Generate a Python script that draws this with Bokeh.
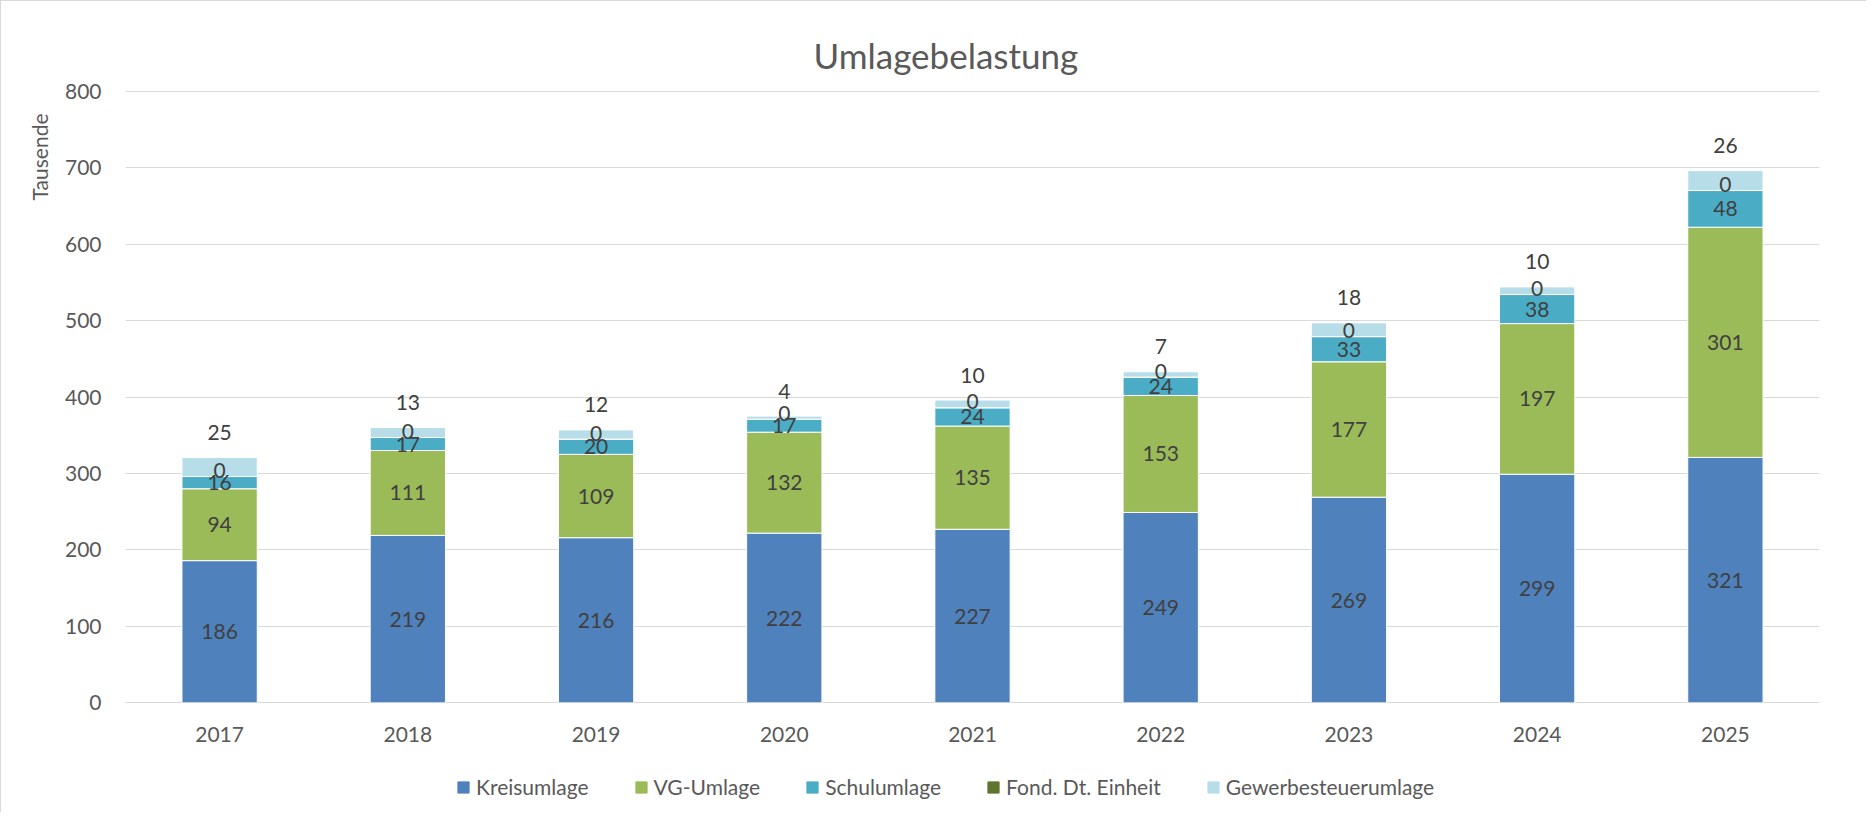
from bokeh.plotting import figure
from bokeh.layouts import column
from bokeh.models import (FactorRange, Range1d, FixedTicker, Title, Legend, LegendItem,
                          ColumnDataSource)
from bokeh.core.properties import value
from bokeh.embed import file_html
from bokeh.resources import INLINE

# ---- data ----
years = ["2017", "2018", "2019", "2020", "2021", "2022", "2023", "2024", "2025"]
kreisumlage = [186, 219, 216, 222, 227, 249, 269, 299, 321]
vg_umlage = [94, 111, 109, 132, 135, 153, 177, 197, 301]
schulumlage = [16, 17, 20, 17, 24, 24, 33, 38, 48]
fond_dt_einheit = [0, 0, 0, 0, 0, 0, 0, 0, 0]
gewerbesteuerumlage = [25, 13, 12, 4, 10, 7, 18, 10, 26]
series_names = ["Kreisumlage", "VG-Umlage", "Schulumlage", "Fond. Dt. Einheit", "Gewerbesteuerumlage"]
y_ticks = [0, 100, 200, 300, 400, 500, 600, 700, 800]
title_text = "Umlagebelastung"
y_label_text = "Tausende"

colors = ["#4F81BD", "#9BBB59", "#4BACC6", "#5F7530", "#B7DEE8"]
FONT = "Lato"
FS = "21px"
LABEL_COLOR = "#404040"
AXIS_COLOR = "#595959"

keys = ["k", "v", "s", "f", "g"]
data = dict(years=years, k=kreisumlage, v=vg_umlage, s=schulumlage, f=fond_dt_einheit, g=gewerbesteuerumlage)
src = ColumnDataSource(data)

p = figure(width=1866, height=762, x_range=FactorRange(*years), y_range=Range1d(-0.8, 800.8),
           output_backend="svg", toolbar_location=None,
           min_border_left=124, min_border_right=48, min_border_top=89, min_border_bottom=60)
p.styles = {"border-top": "1px solid #D9D9D9", "border-left": "1px solid #D9D9D9"}
p.outline_line_color = None
p.background_fill_color = "white"
p.border_fill_color = "white"

renderers = p.vbar_stack(keys, x="years", width=0.4, color=colors, source=src,
                         line_color="white", line_width=1)

# axes
for ax in (p.xaxis[0], p.yaxis[0]):
    ax.axis_line_color = None
    ax.major_tick_line_color = None
    ax.minor_tick_line_color = None
    ax.major_tick_in = 0
    ax.major_tick_out = 0
    ax.major_label_text_font = FONT
    ax.major_label_text_font_size = FS
    ax.major_label_text_color = AXIS_COLOR
p.yaxis.ticker = FixedTicker(ticks=y_ticks)
p.yaxis.major_label_standoff = 24
p.xaxis.major_label_standoff = 23
p.xgrid.grid_line_color = None
p.ygrid.grid_line_color = "#D9D9D9"
p.ygrid.grid_line_width = 1

# stacked positions for labels
cum = [0] * len(years)
centers = []
tops = []
for vals in [kreisumlage, vg_umlage, schulumlage, fond_dt_einheit, gewerbesteuerumlage]:
    centers.append([c + v / 2 for c, v in zip(cum, vals)])
    cum = [c + v for c, v in zip(cum, vals)]
    tops.append(list(cum))

lab_common = dict(text_font=value(FONT), text_font_size=FS, text_color=LABEL_COLOR,
                  text_align="center", text_baseline="middle")
for i, vals in enumerate([kreisumlage, vg_umlage, schulumlage]):
    p.text(x=years, y=centers[i], text=[str(v) for v in vals], **lab_common)
p.text(x=years, y=centers[3], text=[str(v) for v in fond_dt_einheit], y_offset=-6, **lab_common)
p.text(x=years, y=tops[4], text=[str(v) for v in gewerbesteuerumlage], y_offset=-25, **lab_common)

# title
p.title = Title(text=title_text, align="left", offset=688, standoff=30,
                text_font=FONT, text_font_size="35px", text_font_style="normal",
                text_color=AXIS_COLOR)
# y label as a title in the left panel, near the top
p.add_layout(Title(text=y_label_text, align="right", offset=23, standoff=20,
                   text_font=FONT, text_font_size=FS, text_font_style="normal",
                   text_color=AXIS_COLOR), "left")

# ---- legend strip below the chart ----
p2 = figure(width=1866, height=50, x_range=Range1d(0, 1), y_range=Range1d(0, 1),
            output_backend="svg", toolbar_location=None,
            x_axis_location=None, y_axis_location=None, min_border=0,
            min_border_left=0, min_border_right=0, min_border_top=0, min_border_bottom=0)
p2.styles = {"border-left": "1px solid #D9D9D9"}
p2.grid.visible = False
p2.outline_line_color = None
p2.background_fill_color = "white"
p2.border_fill_color = "white"
legend_renderers = [p2.vbar(x=[-5], top=[-5], width=0.1, fill_color=c, line_color=c) for c in colors]
legend = Legend(items=[LegendItem(label=n, renderers=[r]) for n, r in zip(series_names, legend_renderers)],
                orientation="horizontal", location=(331, 13),
                glyph_width=14, glyph_height=14,
                label_standoff=6, spacing=45, padding=0, margin=0,
                label_text_font=FONT, label_text_font_size=FS, label_text_color=AXIS_COLOR,
                border_line_color=None, background_fill_alpha=0)
p2.add_layout(legend, "center")

layout = column(p, p2, spacing=0)
open("out.html", "w").write(file_html(layout, INLINE))
